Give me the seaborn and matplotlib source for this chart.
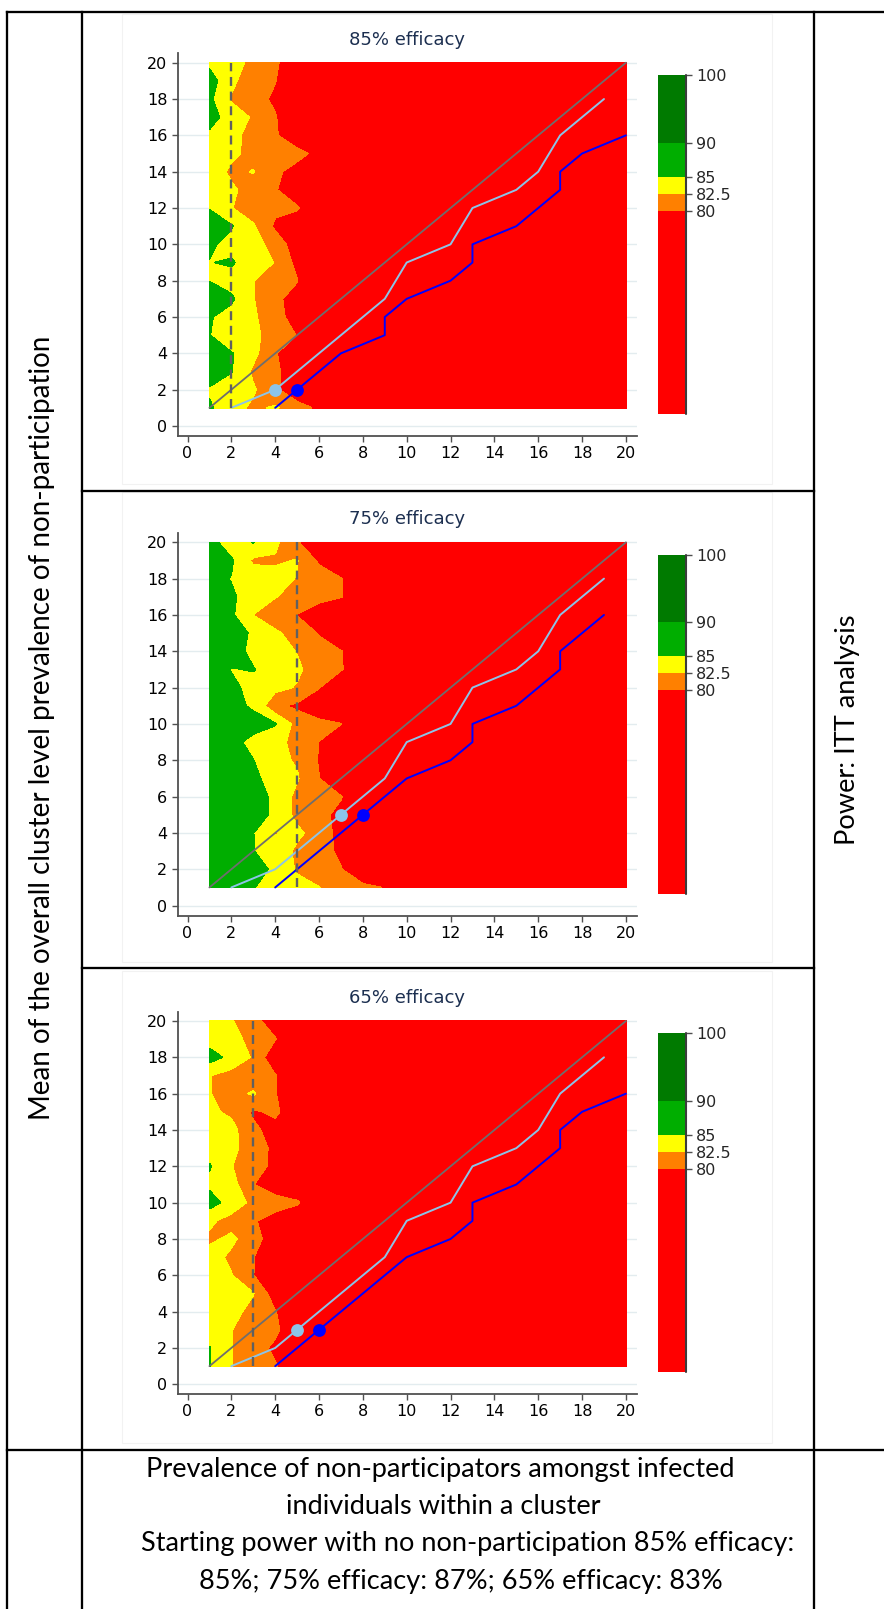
import numpy as np
import matplotlib
matplotlib.use("Agg")
import matplotlib.pyplot as plt
import seaborn as sns
import pandas as pd
from matplotlib.textpath import TextPath
from matplotlib.font_manager import FontProperties

# ---------------- data ----------------
x_grid = [1, 2, 3, 4, 5, 6, 7, 8, 9, 20]
y_rows = list(range(20, 0, -1))  # rows listed from y=20 down to y=1

power_85 = [
    [84.5, 83.5, 81.8, 80.6, 77.0, 75.0, 74.0, 74.0, 73.0, 55.0],
    [86.0, 83.2, 80.5, 80.1, 77.0, 75.0, 74.0, 74.0, 73.0, 55.0],
    [85.5, 82.2, 81.0, 79.5, 77.0, 75.0, 74.0, 74.0, 73.0, 55.0],
    [86.0, 83.8, 82.2, 80.2, 77.0, 75.0, 74.0, 74.0, 73.0, 55.0],
    [84.5, 83.3, 81.5, 80.3, 78.0, 75.0, 74.0, 74.0, 73.0, 55.0],
    [84.5, 83.0, 81.8, 81.0, 80.8, 79.2, 75.0, 74.0, 73.0, 55.0],
    [84.0, 82.0, 82.6, 80.5, 79.0, 76.0, 75.0, 74.0, 73.0, 55.0],
    [84.5, 82.9, 81.5, 80.2, 78.0, 75.0, 74.0, 74.0, 73.0, 55.0],
    [84.8, 82.6, 81.0, 80.6, 80.3, 77.0, 75.0, 74.0, 73.0, 55.0],
    [87.0, 85.2, 82.8, 79.5, 78.0, 76.0, 75.0, 74.0, 73.0, 55.0],
    [85.5, 84.0, 83.5, 81.5, 78.5, 76.0, 75.0, 74.0, 73.0, 55.0],
    [84.9, 85.3, 83.5, 82.4, 79.2, 76.0, 75.0, 74.0, 73.0, 55.0],
    [84.9, 84.0, 82.6, 81.0, 80.1, 76.0, 75.0, 74.0, 73.0, 55.0],
    [87.0, 85.4, 82.6, 80.5, 79.0, 76.0, 75.0, 74.0, 73.0, 55.0],
    [85.2, 84.0, 82.8, 81.2, 78.5, 76.0, 75.0, 74.0, 73.0, 55.0],
    [85.1, 82.4, 83.0, 81.5, 79.9, 76.0, 75.0, 74.0, 73.0, 55.0],
    [86.5, 85.2, 83.2, 80.2, 78.0, 76.0, 75.0, 74.0, 73.0, 55.0],
    [86.5, 85.1, 82.0, 80.6, 78.0, 76.0, 75.0, 74.0, 73.0, 55.0],
    [84.7, 83.5, 82.8, 80.5, 78.0, 76.0, 75.0, 74.0, 73.0, 55.0],
    [85.3, 83.5, 82.0, 82.8, 81.0, 79.5, 76.0, 74.0, 73.0, 55.0],
]

power_75 = [
    [86.0, 83.5, 85.1, 83.0, 80.2, 78.0, 77.0, 76.0, 75.0, 55.0],
    [87.0, 85.3, 82.0, 82.2, 82.6, 79.5, 77.0, 76.0, 75.0, 55.0],
    [85.8, 84.9, 84.0, 83.2, 82.4, 81.5, 80.1, 78.0, 76.0, 55.0],
    [86.5, 85.3, 84.0, 82.6, 81.5, 81.0, 80.1, 78.0, 76.0, 55.0],
    [86.5, 85.4, 82.45, 81.0, 79.9, 78.0, 77.0, 76.0, 75.0, 55.0],
    [87.0, 85.9, 84.7, 82.9, 81.5, 79.8, 77.0, 76.0, 75.0, 55.0],
    [87.0, 85.8, 84.5, 83.4, 82.4, 81.0, 80.1, 78.0, 76.0, 55.0],
    [86.5, 84.9, 85.1, 84.0, 82.9, 81.3, 80.2, 78.0, 76.0, 55.0],
    [86.5, 85.5, 84.3, 83.2, 82.3, 80.1, 77.0, 76.0, 75.0, 55.0],
    [87.0, 85.8, 84.6, 80.5, 79.5, 78.0, 77.0, 76.0, 75.0, 55.0],
    [87.5, 86.8, 86.0, 85.2, 81.5, 80.7, 80.05, 78.0, 76.0, 55.0],
    [87.0, 85.8, 84.2, 83.0, 82.0, 79.95, 78.0, 76.0, 75.0, 55.0],
    [87.0, 86.0, 85.05, 83.0, 82.3, 79.8, 77.0, 76.0, 75.0, 55.0],
    [87.5, 86.5, 85.5, 84.0, 82.7, 80.05, 77.0, 76.0, 75.0, 55.0],
    [88.0, 87.0, 86.0, 84.5, 81.8, 81.0, 80.1, 78.0, 76.0, 55.0],
    [88.0, 87.0, 86.0, 84.5, 81.8, 80.5, 79.5, 77.0, 76.0, 55.0],
    [88.0, 86.5, 85.05, 82.3, 83.0, 81.5, 79.0, 77.0, 76.0, 55.0],
    [87.5, 86.5, 85.05, 84.0, 82.0, 81.0, 79.5, 77.0, 76.0, 55.0],
    [88.0, 87.0, 86.0, 84.5, 82.2, 81.0, 80.1, 78.0, 76.0, 55.0],
    [87.5, 86.5, 85.1, 84.0, 83.3, 82.55, 81.3, 80.5, 79.9, 55.0],
]

power_65 = [
    [84.0, 82.7, 80.6, 79.0, 77.0, 76.0, 75.0, 74.0, 73.0, 50.0],
    [84.0, 83.2, 81.8, 80.1, 78.0, 76.0, 75.0, 74.0, 73.0, 50.0],
    [86.0, 84.3, 82.2, 77.8, 77.0, 76.0, 75.0, 74.0, 73.0, 50.0],
    [82.6, 81.5, 81.0, 80.1, 78.0, 76.0, 75.0, 74.0, 73.0, 50.0],
    [82.6, 81.5, 82.8, 80.1, 78.0, 76.0, 75.0, 74.0, 73.0, 50.0],
    [83.0, 82.0, 79.6, 80.5, 78.0, 77.0, 75.0, 74.0, 73.0, 50.0],
    [84.0, 83.3, 80.5, 79.0, 77.0, 76.0, 75.0, 74.0, 73.0, 50.0],
    [84.0, 83.2, 81.0, 79.5, 77.0, 76.0, 75.0, 74.0, 73.0, 50.0],
    [85.2, 82.6, 80.8, 79.5, 77.0, 76.0, 75.0, 74.0, 73.0, 50.0],
    [84.5, 83.5, 80.05, 78.5, 77.0, 76.0, 75.0, 74.0, 73.0, 50.0],
    [86.0, 84.0, 81.8, 81.0, 80.4, 77.0, 75.0, 74.0, 73.0, 50.0],
    [83.0, 81.5, 80.2, 79.0, 77.0, 76.0, 75.0, 74.0, 73.0, 50.0],
    [82.0, 83.0, 81.0, 78.5, 77.0, 76.0, 75.0, 74.0, 73.0, 50.0],
    [83.5, 82.0, 80.1, 77.0, 76.0, 75.0, 75.0, 74.0, 73.0, 50.0],
    [84.0, 82.6, 80.05, 77.5, 76.0, 75.0, 75.0, 74.0, 73.0, 50.0],
    [84.5, 84.0, 82.6, 78.5, 77.0, 76.0, 75.0, 74.0, 73.0, 50.0],
    [84.5, 83.2, 81.8, 80.1, 78.0, 76.0, 75.0, 74.0, 73.0, 50.0],
    [84.0, 82.55, 81.5, 80.5, 78.0, 76.0, 75.0, 74.0, 73.0, 50.0],
    [85.1, 82.6, 81.0, 79.5, 77.0, 76.0, 75.0, 74.0, 73.0, 50.0],
    [85.05, 82.6, 80.5, 80.2, 78.0, 76.0, 75.0, 74.0, 73.0, 50.0],
]

panel_titles = ["85% efficacy", "75% efficacy", "65% efficacy"]
dashed_x = [2, 5, 3]

diag_x = [1, 20]
diag_y = [1, 20]
ltblue_x = [2, 4, 5, 6, 7, 8, 9, 10, 12, 13, 15, 16, 17, 19]
ltblue_y = [1, 2, 3, 4, 5, 6, 7, 9, 10, 12, 13, 14, 16, 18]
blue_x_85 = [4, 5, 7, 9, 9, 10, 12, 13, 13, 15, 17, 17, 18, 20]
blue_y_85 = [1, 2, 4, 5, 6, 7, 8, 9, 10, 11, 13, 14, 15, 16]
blue_x_75 = [4, 5, 8, 10, 12, 13, 13, 15, 17, 17, 19]
blue_y_75 = [1, 2, 5, 7, 8, 9, 10, 11, 13, 14, 16]
blue_x_65 = [4, 6, 10, 12, 13, 13, 15, 17, 17, 18, 20]
blue_y_65 = [1, 3, 7, 8, 9, 10, 11, 13, 14, 15, 16]
ltblue_pt_x = [4, 7, 5]
ltblue_pt_y = [2, 5, 3]
blue_pt_x = [5, 8, 6]
blue_pt_y = [2, 5, 3]

levels = [50, 80, 82.5, 85, 90, 100]
cbar_ticks = [80, 82.5, 85, 90, 100]
cbar_labels = ["80", "82.5", "85", "90", "100"]
band_colors = ["#FF0000", "#FF8000", "#FFFF00", "#00AE00", "#007A00"]

axis_ticks = [0, 2, 4, 6, 8, 10, 12, 14, 16, 18, 20]

left_label = "Mean of the overall cluster level prevalence of non-participation"
right_label = "Power: ITT analysis"
bottom_lines = [
    "Prevalence of non-participators amongst infected",
    "individuals within a cluster",
    "Starting power with no non-participation 85% efficacy:",
    "85%; 75% efficacy: 87%; 65% efficacy: 83%",
]

# ---------------- styling ----------------
sns.set_style("white")
plt.rcParams["font.family"] = ["DejaVu Sans"]

W, H = 884, 1609
DPI = 100
fig = plt.figure(figsize=(W / DPI, H / DPI), dpi=DPI)
fig.patch.set_facecolor("white")


def fx(px):
    return px / W


def fy(py):
    return 1 - py / H


# overlay for table lines and document text
ov = fig.add_axes([0, 0, 1, 1])
ov.set_xlim(0, W)
ov.set_ylim(H, 0)
ov.axis("off")

tab_lw = 2.3 * 72 / DPI
for (x0, x1, y0, y1) in [(7, W + 5, 12, 12), (82, 814, 491, 491), (82, 814, 968, 968),
                         (7, W + 5, 1450, 1450), (7, 7, 12, H + 5), (82, 82, 12, H + 5),
                         (814, 814, 12, H + 5)]:
    ov.plot([x0, x1], [y0, y1], color="black", lw=tab_lw, solid_capstyle="projecting")

# faint graph regions
for top, bot in [(14, 484), (492, 962), (971, 1443)]:
    ov.add_patch(plt.Rectangle((122, top), 772 - 122, bot - top, fill=False,
                               edgecolor="#f2f2f2", lw=0.8))

doc_font = "Lato"


def fit_size(s, target_px, family):
    fp = FontProperties(family=family)
    w = TextPath((0, 0), s, size=20, prop=fp).get_extents().width * DPI / 72
    return 20 * target_px / w


fs_left = fit_size(left_label, 778, doc_font)
fs_right = fit_size(right_label, 228, doc_font)
fs_bottom = fit_size(bottom_lines[0], 585, doc_font)

ov.text(42, 728, left_label, rotation=90, ha="center", va="center",
        fontsize=fs_left, family=[doc_font, "DejaVu Sans"], color="black")
ov.text(848, 730, right_label, rotation=90, ha="center", va="center",
        fontsize=fs_right, family=[doc_font, "DejaVu Sans"], color="black")
for s, (cx, cy) in zip(bottom_lines, [(440, 1469), (443, 1507), (468, 1544), (461, 1582)]):
    ov.text(cx, cy, s, ha="center", va="center", fontsize=fs_bottom,
            family=[doc_font, "DejaVu Sans"], color="black")

# ---------------- panels ----------------
panels = [
    (power_85, blue_x_85, blue_y_85),
    (power_75, blue_x_75, blue_y_75),
    (power_65, blue_x_65, blue_y_65),
]
y20_px = [62.7, 542.3, 1021.0]
unit_y = 18.165
unit_x = 21.92
x0_px = 187.5
xlim = (-0.456, 20.52)
ylim = (-0.55, 20.52)

axis_col = "#505050"
tick_lw = 1.0
tick_len = 6 * 72 / DPI
tick_fs = 11.5

for k, (pw, bx, by) in enumerate(panels):
    y20 = y20_px[k]
    y0 = y20 + 20 * unit_y
    top_px = y20 - (ylim[1] - 20) * unit_y
    bot_px = y0 - ylim[0] * unit_y
    left_px = x0_px + xlim[0] * unit_x
    right_px = x0_px + xlim[1] * unit_x
    ax = fig.add_axes([fx(left_px), fy(bot_px), fx(right_px - left_px), (bot_px - top_px) / H])

    Z = np.array(pw)[::-1]
    Y = np.array(y_rows)[::-1]
    X = np.array(x_grid)
    cs = ax.contourf(X, Y, Z, levels=levels, colors=band_colors, zorder=1)
    cs.set_edgecolor("face")
    cs.set_linewidth(0.4)

    # reference lines
    sns.lineplot(x=diag_x, y=diag_y, ax=ax, color="#6e6e6e", lw=1.3,
                 estimator=None, sort=False, zorder=3)
    sns.lineplot(x=ltblue_x, y=ltblue_y, ax=ax, color="#8CC4E8", lw=1.4,
                 estimator=None, sort=False, zorder=3)
    sns.lineplot(x=bx, y=by, ax=ax, color="#0000FF", lw=1.4,
                 estimator=None, sort=False, zorder=3)
    sns.lineplot(x=[dashed_x[k], dashed_x[k]], y=[1, 20], ax=ax, color="#606060",
                 lw=1.7, linestyle=(0, (3.8, 2.4)), estimator=None, sort=False, zorder=4)
    sns.scatterplot(x=[ltblue_pt_x[k]], y=[ltblue_pt_y[k]], ax=ax, color="#8CC4E8",
                    s=85, linewidth=0, zorder=5)
    sns.scatterplot(x=[blue_pt_x[k]], y=[blue_pt_y[k]], ax=ax, color="#0000FF",
                    s=85, linewidth=0, zorder=5)

    ax.set_xlim(*xlim)
    ax.set_ylim(*ylim)
    ax.set_xticks(axis_ticks)
    ax.set_yticks(axis_ticks)
    ax.set_xticklabels([str(t) for t in axis_ticks])
    ax.set_yticklabels([str(t) for t in axis_ticks])
    ax.set_xlabel("")
    ax.set_ylabel("")
    ax.set_axisbelow(True)
    ax.yaxis.grid(True, color="#e3ecef", lw=1.0)
    ax.xaxis.grid(False)
    for sp in ["top", "right"]:
        ax.spines[sp].set_visible(False)
    for sp in ["left", "bottom"]:
        ax.spines[sp].set_visible(True)
        ax.spines[sp].set_color(axis_col)
        ax.spines[sp].set_linewidth(1.3)
    ax.tick_params(axis="both", which="major", length=tick_len, width=tick_lw,
                   color=axis_col, labelsize=tick_fs, labelcolor="black", pad=3,
                   bottom=True, left=True, direction="out")
    ax.patch.set_alpha(0)

    # title
    ov.text(407, y20 - 23, panel_titles[k], ha="center", va="center",
            fontsize=13, color="#1c2f50")

    # colour bar
    c_top = y20 + 12.3
    c_bot = y0 - 12
    cax = fig.add_axes([fx(658), fy(c_bot), fx(686 - 658), (c_bot - c_top) / H])
    cb = fig.colorbar(cs, cax=cax, ticks=cbar_ticks, spacing="proportional")
    cb.ax.set_yticklabels(cbar_labels)
    cb.outline.set_visible(False)
    cax.tick_params(axis="y", length=tick_len, width=tick_lw, color=axis_col,
                    labelsize=tick_fs, pad=3, right=True, left=False)
    cax.plot([1, 1], [0, 1], transform=cax.transAxes, color="#3c3c3c", lw=1.5,
             clip_on=False, zorder=5)

fig.savefig("out.png", dpi=DPI, facecolor="white")
